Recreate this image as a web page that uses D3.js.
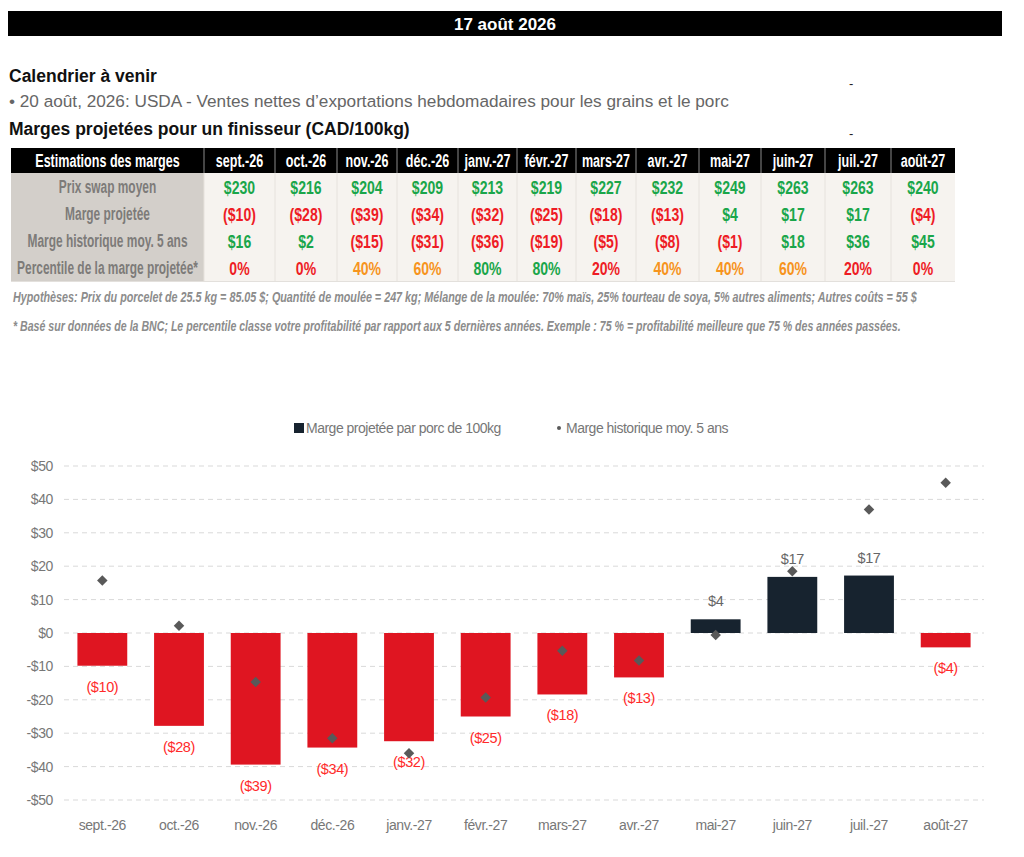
<!DOCTYPE html>
<html><head><meta charset="utf-8">
<script src="https://cdn.jsdelivr.net/npm/d3@7"></script>
<style>
body{margin:0;background:#fff;}
svg text{font-family:"Liberation Sans",Arial,Helvetica,sans-serif;}
</style></head>
<body><svg id="c" width="1024" height="857"></svg>
<script>
const months = ["sept.-26","oct.-26","nov.-26","déc.-26","janv.-27","févr.-27","mars-27","avr.-27","mai-27","juin-27","juil.-27","août-27"];
const swapPrice = [230,216,204,209,213,219,227,232,249,263,263,240];
const marginTable = [-10,-28,-39,-34,-32,-25,-18,-13,4,17,17,-4];
const histTable = [16,2,-15,-31,-36,-19,-5,-8,-1,18,36,45];
const percentile = [0,0,40,60,80,80,20,40,40,60,20,0];
const projected = [-9.8,-27.8,-39.4,-34.3,-32.4,-25.0,-18.4,-13.3,4.1,16.8,17.2,-4.3];
const historical = [15.7,2.2,-14.7,-31.5,-36.0,-19.3,-5.3,-8.2,-0.6,18.5,37.0,45.0];
const yTicks = [50,40,30,20,10,0,-10,-20,-30,-40,-50];
const rowLabels = ["Prix swap moyen","Marge projetée","Marge historique moy. 5 ans","Percentile de la marge projetée*"];

const GREEN="#1aa64a", RED="#ee1c25", ORANGE="#f7941d";
const svg = d3.select("#c");

function ntext(g, x, y, s){
  return g.append("text").attr("transform",`translate(${x},${y}) scale(${s},1)`);
}
// squeeze a left-anchored text so that it spans width w
function fitW(g, x, y, w){
  const t = g.append("text").attr("x",0).attr("y",0);
  t.fit = () => { const L = t.node().getComputedTextLength(); t.attr("transform",`translate(${x},${y}) scale(${w/L},1)`); return t; };
  return t;
}

// Header band
svg.append("rect").attr("x",8).attr("y",11).attr("width",994).attr("height",25).attr("fill","#000");
svg.append("text").attr("x",505).attr("y",30).attr("text-anchor","middle").attr("fill","#fff")
  .attr("font-size",17).attr("font-weight","bold").text("17 août 2026");

svg.append("text").attr("x",9).attr("y",82).attr("font-size",17.5).attr("font-weight","bold").attr("fill","#111").text("Calendrier à venir");
svg.append("text").attr("x",9).attr("y",107).attr("font-size",17.2).attr("fill","#666").text("• 20 août, 2026: USDA - Ventes nettes d’exportations hebdomadaires pour les grains et le porc");
svg.append("text").attr("x",9).attr("y",135).attr("font-size",17.5).attr("font-weight","bold").attr("fill","#111").text("Marges projetées pour un finisseur (CAD/100kg)");
svg.append("text").attr("x",849).attr("y",88).attr("font-size",13).attr("fill","#222").text("-");
svg.append("text").attr("x",849).attr("y",138).attr("font-size",13).attr("fill","#222").text("-");

// Table
const colEdges = [11,204,275,337,397,458,517,576,636,699,761,825,891,955];
const rowTop = 148, headH = 25, rowH = 27;
const tbl = svg.append("g");
tbl.append("rect").attr("x",colEdges[0]).attr("y",rowTop).attr("width",colEdges[13]-colEdges[0]).attr("height",headH).attr("fill","#000");
tbl.append("rect").attr("x",colEdges[0]).attr("y",rowTop+headH).attr("width",colEdges[1]-colEdges[0]).attr("height",rowH*4).attr("fill","#d3cfca");
tbl.append("rect").attr("x",colEdges[1]).attr("y",rowTop+headH).attr("width",colEdges[13]-colEdges[1]).attr("height",rowH*4).attr("fill","#f6f3ef");
colEdges.slice(1,13).forEach(x=>{
  tbl.append("line").attr("x1",x).attr("x2",x).attr("y1",rowTop).attr("y2",rowTop+headH).attr("stroke","#8a8a8a").attr("stroke-width",1);
  tbl.append("line").attr("x1",x).attr("x2",x).attr("y1",rowTop+headH).attr("y2",rowTop+headH+rowH*4).attr("stroke","#e6e2dd").attr("stroke-width",1);
});
tbl.append("line").attr("x1",colEdges[0]).attr("x2",colEdges[13]).attr("y1",rowTop+headH+rowH*4+0.5).attr("y2",rowTop+headH+rowH*4+0.5).attr("stroke","#e3e0dc");
const headers = ["Estimations des marges"].concat(months);
headers.forEach((h,i)=>{
  ntext(tbl,(colEdges[i]+colEdges[i+1])/2,rowTop+19,0.68)
    .attr("text-anchor","middle").attr("fill","#fff").attr("font-weight","bold").attr("font-size",18.5).text(h);
});
rowLabels.forEach((r,j)=>{
  ntext(tbl,(colEdges[0]+colEdges[1])/2,rowTop+headH+20+j*rowH,0.645)
    .attr("text-anchor","middle").attr("fill","#7d7b79").attr("font-weight","bold").attr("font-size",18.5).text(r);
});
const money = v => v<0 ? "($"+Math.abs(v)+")" : "$"+v;
const pctColor = p => p<=20 ? RED : (p<=60 ? ORANGE : GREEN);
months.forEach((m,i)=>{
  const cx=(colEdges[i+1]+colEdges[i+2])/2;
  const rows=[
    [money(swapPrice[i]), GREEN],
    [money(marginTable[i]), marginTable[i]<0?RED:GREEN],
    [money(histTable[i]), histTable[i]<0?RED:GREEN],
    [percentile[i]+"%", pctColor(percentile[i])]
  ];
  rows.forEach((r,j)=>{
    ntext(tbl,cx,rowTop+headH+20.5+j*rowH,0.76)
      .attr("text-anchor","middle").attr("fill",r[1]).attr("font-weight","bold").attr("font-size",18.5).text(r[0]);
  });
});
fitW(svg,13,302,905).attr("font-size",15).attr("font-style","italic").attr("font-weight","bold").attr("fill","#8c8c8c")
  .text("Hypothèses: Prix du porcelet de 25.5 kg = 85.05 $; Quantité de moulée = 247 kg; Mélange de la moulée: 70% maïs, 25% tourteau de soya, 5% autres aliments; Autres coûts = 55 $").fit();
fitW(svg,13,331,888).attr("font-size",15).attr("font-style","italic").attr("font-weight","bold").attr("fill","#8c8c8c")
  .text("* Basé sur données de la BNC; Le percentile classe votre profitabilité par rapport aux 5 dernières années. Exemple : 75 % = profitabilité meilleure que 75 % des années passées.").fit();

// Chart
const x = d3.scaleBand().domain(months).range([64,984]).paddingInner(0.35).paddingOuter(0.175);
const y = d3.scaleLinear().domain([-50,50]).range([800,466]);
const ch = svg.append("g");
ch.selectAll(".grid").data(yTicks).join("line").attr("x1",64).attr("x2",984)
  .attr("y1",d=>y(d)).attr("y2",d=>y(d)).attr("stroke","#d9d9d9").attr("stroke-dasharray","5,4").attr("stroke-width",1);
ch.selectAll(".yl").data(yTicks).join("text").attr("x",53).attr("y",d=>y(d)+5)
  .attr("text-anchor","end").attr("fill","#777").attr("font-size",14).attr("letter-spacing",-0.4)
  .text(d=> d<0 ? "-$"+Math.abs(d) : "$"+d);
ch.selectAll(".bar").data(projected).join("rect")
  .attr("x",(d,i)=>x(months[i])).attr("width",x.bandwidth())
  .attr("y",d=>y(Math.max(0,d))).attr("height",d=>Math.abs(y(d)-y(0)))
  .attr("fill",d=>d<0?"#df1521":"#17232f");
ch.selectAll(".lab").data(projected).join("text")
  .attr("x",(d,i)=>x(months[i])+x.bandwidth()/2)
  .attr("y",d=> d<0 ? y(d)+26 : y(d)-13)
  .attr("text-anchor","middle").attr("font-size",14.5).attr("letter-spacing",-0.4)
  .attr("fill",d=>d<0?"#ff2a2a":"#666")
  .text(d=>money(Math.round(d)));
ch.selectAll(".dia").data(historical).join("path")
  .attr("d",d3.symbol().type(d3.symbolDiamond2).size(70))
  .attr("transform",(d,i)=>`translate(${x(months[i])+x.bandwidth()/2},${y(d)})`)
  .attr("fill","#595959");
ch.selectAll(".xl").data(months).join("text")
  .attr("x",d=>x(d)+x.bandwidth()/2).attr("y",830).attr("text-anchor","middle")
  .attr("fill","#777").attr("font-size",14).attr("letter-spacing",-0.4).text(d=>d);
const lg = ch.append("g");
lg.append("rect").attr("x",294).attr("y",423).attr("width",10).attr("height",10).attr("fill","#17232f");
lg.append("text").attr("x",306).attr("y",433).attr("font-size",14).attr("letter-spacing",-0.5).attr("fill","#777").text("Marge projetée par porc de 100kg");
lg.append("circle").attr("cx",559).attr("cy",428).attr("r",2).attr("fill","#595959");
lg.append("text").attr("x",566).attr("y",433).attr("font-size",14).attr("letter-spacing",-0.5).attr("fill","#777").text("Marge historique moy. 5 ans");
</script></body></html>
